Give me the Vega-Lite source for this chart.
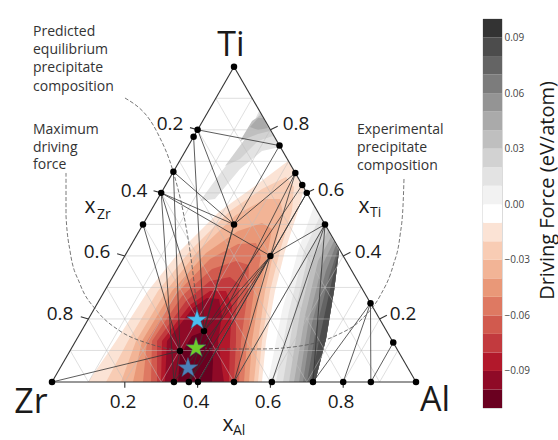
{
"$schema": "https://vega.github.io/schema/vega-lite/v6.json",
"autosize": {"type": "pad"},
"padding": {"left": 0, "top": 18, "right": 0, "bottom": 0},
"background": "white",
"config": {"view": {"stroke": null}, "font": "Open Sans"},
"spacing": 22,
"resolve": {"scale": {"color": "independent"}},
"hconcat": [
{
"width": 460, "height": 422,
"projection": {"type": "identity", "reflectY": true, "scale": 364, "translate": [52, 363]},
"layer": [
{
"data": {"values": {"type": "FeatureCollection", "features": [
{"type": "Feature", "properties": {"v": -0.02}, "geometry": {"type": "Polygon", "coordinates": [[[0.0989,0],[0.1758,0.1126],[0.2637,0.25],[0.3516,0.3599],[0.4615,0.4698],[0.5577,0.5385],[0.6484,0.6071],[0.6923,0.5302],[0.6758,0.4698],[0.6401,0.3599],[0.6126,0.25],[0.5879,0.1126],[0.5769,0],[0.0989,0]]]}},
{"type": "Feature", "properties": {"v": -0.03}, "geometry": {"type": "Polygon", "coordinates": [[[0.1484,0],[0.2088,0.1126],[0.2912,0.25],[0.3791,0.3599],[0.489,0.4698],[0.5769,0.5302],[0.6429,0.5632],[0.6648,0.5357],[0.6593,0.4698],[0.6264,0.3599],[0.5989,0.25],[0.5769,0.1126],[0.5659,0],[0.1484,0]]]}},
{"type": "Feature", "properties": {"v": -0.04}, "geometry": {"type": "Polygon", "coordinates": [[[0.1896,0],[0.2308,0.1126],[0.3132,0.25],[0.4011,0.3599],[0.5055,0.4588],[0.5852,0.5027],[0.6264,0.5027],[0.6346,0.4643],[0.6099,0.3599],[0.5852,0.25],[0.5659,0.1126],[0.5549,0],[0.1896,0]]]}},
{"type": "Feature", "properties": {"v": -0.05}, "geometry": {"type": "Polygon", "coordinates": [[[0.2225,0],[0.2473,0.1126],[0.3297,0.25],[0.4231,0.3544],[0.511,0.4148],[0.5769,0.4368],[0.6044,0.4203],[0.5934,0.3599],[0.5714,0.25],[0.5495,0.1126],[0.5412,0],[0.2225,0]]]}},
{"type": "Feature", "properties": {"v": -0.06}, "geometry": {"type": "Polygon", "coordinates": [[[0.25,0],[0.261,0.1126],[0.3434,0.2445],[0.4341,0.3379],[0.511,0.3791],[0.5604,0.3819],[0.5742,0.3462],[0.5549,0.25],[0.5357,0.1126],[0.5275,0],[0.25,0]]]}},
{"type": "Feature", "properties": {"v": -0.07}, "geometry": {"type": "Polygon", "coordinates": [[[0.272,0],[0.2747,0.1126],[0.3571,0.2363],[0.4396,0.3104],[0.5055,0.3324],[0.5412,0.3214],[0.5385,0.25],[0.5192,0.1126],[0.5137,0],[0.272,0]]]}},
{"type": "Feature", "properties": {"v": -0.08}, "geometry": {"type": "Polygon", "coordinates": [[[0.2885,0],[0.2885,0.1126],[0.3681,0.2225],[0.4341,0.2775],[0.489,0.2885],[0.5165,0.2665],[0.5055,0.1951],[0.5055,0.1126],[0.5,0],[0.2885,0]]]}},
{"type": "Feature", "properties": {"v": -0.09}, "geometry": {"type": "Polygon", "coordinates": [[[0.2995,0],[0.3022,0.1126],[0.3791,0.2115],[0.4341,0.25],[0.478,0.25],[0.4945,0.2088],[0.489,0.1126],[0.4863,0],[0.2995,0]]]}},
{"type": "Feature", "properties": {"v": -0.10}, "geometry": {"type": "Polygon", "coordinates": [[[0.3104,0],[0.3159,0.1126],[0.3874,0.2033],[0.4258,0.2308],[0.4588,0.228],[0.467,0.1813],[0.456,0.1126],[0.4725,0],[0.3104,0]]]}},
{"type": "Feature", "properties": {"v": -0.11}, "geometry": {"type": "Polygon", "coordinates": [[[0.3462,0],[0.3516,0.0714],[0.3846,0.1264],[0.4203,0.1401],[0.4396,0.1126],[0.4423,0.0577],[0.4396,0],[0.3462,0]]]}},
{"type": "Feature", "properties": {"v": 0.00}, "geometry": {"type": "Polygon", "coordinates": [[[0.5934,0],[0.6319,0.1951],[0.6758,0.3599],[0.7198,0.4835],[0.7885,0.3599],[0.7747,0.25],[0.7527,0.1181],[0.7225,0],[0.5934,0]]]}},
{"type": "Feature", "properties": {"v": 0.01}, "geometry": {"type": "Polygon", "coordinates": [[[0.6154,0],[0.6511,0.1951],[0.6923,0.3599],[0.7363,0.456],[0.7885,0.3599],[0.7747,0.25],[0.7527,0.1181],[0.7225,0],[0.6154,0]]]}},
{"type": "Feature", "properties": {"v": 0.02}, "geometry": {"type": "Polygon", "coordinates": [[[0.6346,0],[0.6676,0.1951],[0.706,0.3544],[0.7473,0.4368],[0.7885,0.3599],[0.7747,0.25],[0.7527,0.1181],[0.7225,0],[0.6346,0]]]}},
{"type": "Feature", "properties": {"v": 0.03}, "geometry": {"type": "Polygon", "coordinates": [[[0.6511,0],[0.6813,0.1896],[0.7198,0.3462],[0.7582,0.4148],[0.7885,0.3599],[0.7747,0.25],[0.7527,0.1181],[0.7225,0],[0.6511,0]]]}},
{"type": "Feature", "properties": {"v": 0.04}, "geometry": {"type": "Polygon", "coordinates": [[[0.6648,0],[0.6951,0.1813],[0.7308,0.3324],[0.7665,0.3984],[0.7885,0.3599],[0.7747,0.25],[0.7527,0.1181],[0.7225,0],[0.6648,0]]]}},
{"type": "Feature", "properties": {"v": 0.05}, "geometry": {"type": "Polygon", "coordinates": [[[0.6786,0],[0.706,0.1731],[0.7418,0.3187],[0.7747,0.3874],[0.7885,0.3599],[0.7747,0.25],[0.7527,0.1181],[0.7225,0],[0.6786,0]]]}},
{"type": "Feature", "properties": {"v": 0.06}, "geometry": {"type": "Polygon", "coordinates": [[[0.6896,0],[0.7143,0.1621],[0.7527,0.3049],[0.7802,0.3764],[0.7885,0.3599],[0.7747,0.25],[0.7527,0.1181],[0.7225,0],[0.6896,0]]]}},
{"type": "Feature", "properties": {"v": 0.07}, "geometry": {"type": "Polygon", "coordinates": [[[0.7005,0],[0.7253,0.1456],[0.761,0.2885],[0.7857,0.3654],[0.7885,0.3599],[0.7747,0.25],[0.7527,0.1181],[0.7225,0],[0.7005,0]]]}},
{"type": "Feature", "properties": {"v": 0.08}, "geometry": {"type": "Polygon", "coordinates": [[[0.7115,0],[0.7363,0.1264],[0.7665,0.2665],[0.7857,0.3544],[0.7885,0.3599],[0.7747,0.25],[0.7527,0.1181],[0.7225,0],[0.7115,0]]]}},
{"type": "Feature", "properties": {"v": 0.01}, "geometry": {"type": "Polygon", "coordinates": [[[0.4066,0.4973],[0.467,0.5797],[0.5302,0.6621],[0.5687,0.7445],[0.6264,0.6456],[0.5769,0.6346],[0.5165,0.5852],[0.4478,0.5027],[0.4066,0.4973]]]}},
{"type": "Feature", "properties": {"v": 0.02}, "geometry": {"type": "Polygon", "coordinates": [[[0.4753,0.5934],[0.5302,0.6676],[0.5714,0.739],[0.6071,0.6758],[0.5659,0.6621],[0.5165,0.6126],[0.4753,0.5934]]]}},
{"type": "Feature", "properties": {"v": 0.03}, "geometry": {"type": "Polygon", "coordinates": [[[0.5165,0.6621],[0.5495,0.717],[0.5742,0.7335],[0.5989,0.6896],[0.5659,0.6813],[0.5165,0.6621]]]}},
{"type": "Feature", "properties": {"v": 0.04}, "geometry": {"type": "Polygon", "coordinates": [[[0.544,0.7005],[0.5659,0.7253],[0.5797,0.7253],[0.5934,0.6978],[0.5659,0.6923],[0.544,0.7005]]]}}
]}, "format": {"type": "json", "property": "features"}},
"mark": {"type": "geoshape", "strokeWidth": 0},
"encoding": {
"color": {"field": "properties.v", "type": "quantitative", "legend": null,
"scale": {"type": "threshold", "domain": [-0.10,-0.09,-0.08,-0.07,-0.06,-0.05,-0.04,-0.03,-0.02,-0.01,0.00,0.01,0.02,0.03,0.04,0.05,0.06,0.07,0.08,0.09],
"range": ["#6a0020","#8f0a27","#b2182b","#c23a3e","#d15a4e","#de7962","#e99878","#f2b496","#f8ccb4","#fbe3d5","#ffffff","#f2f2f2","#e3e3e3","#d2d2d2","#bfbfbf","#aaaaaa","#949494","#7c7c7c","#646464","#4c4c4c","#333333"]}}
}
},
{
"data": {"values": [
{"x1":0.05,"y1":0.0866,"x2":0.95,"y2":0.0866},{"x1":0.1,"y1":0.1732,"x2":0.9,"y2":0.1732},{"x1":0.15,"y1":0.2598,"x2":0.85,"y2":0.2598},{"x1":0.2,"y1":0.3464,"x2":0.8,"y2":0.3464},{"x1":0.25,"y1":0.433,"x2":0.75,"y2":0.433},{"x1":0.3,"y1":0.5196,"x2":0.7,"y2":0.5196},{"x1":0.35,"y1":0.6062,"x2":0.65,"y2":0.6062},{"x1":0.4,"y1":0.6928,"x2":0.6,"y2":0.6928},{"x1":0.45,"y1":0.7794,"x2":0.55,"y2":0.7794},
{"x1":0.1,"y1":0,"x2":0.55,"y2":0.7794},{"x1":0.2,"y1":0,"x2":0.6,"y2":0.6928},{"x1":0.3,"y1":0,"x2":0.65,"y2":0.6062},{"x1":0.4,"y1":0,"x2":0.7,"y2":0.5196},{"x1":0.5,"y1":0,"x2":0.75,"y2":0.433},{"x1":0.6,"y1":0,"x2":0.8,"y2":0.3464},{"x1":0.7,"y1":0,"x2":0.85,"y2":0.2598},{"x1":0.8,"y1":0,"x2":0.9,"y2":0.1732},{"x1":0.9,"y1":0,"x2":0.95,"y2":0.0866},
{"x1":0.1,"y1":0,"x2":0.05,"y2":0.0866},{"x1":0.2,"y1":0,"x2":0.1,"y2":0.1732},{"x1":0.3,"y1":0,"x2":0.15,"y2":0.2598},{"x1":0.4,"y1":0,"x2":0.2,"y2":0.3464},{"x1":0.5,"y1":0,"x2":0.25,"y2":0.433},{"x1":0.6,"y1":0,"x2":0.3,"y2":0.5196},{"x1":0.7,"y1":0,"x2":0.35,"y2":0.6062},{"x1":0.8,"y1":0,"x2":0.4,"y2":0.6928},{"x1":0.9,"y1":0,"x2":0.45,"y2":0.7794}
]},
"mark": {"type": "rule", "color": "#bdbdbd", "strokeWidth": 0.7, "opacity": 0.7},
"encoding": {"longitude": {"field": "x1", "type": "quantitative"}, "latitude": {"field": "y1", "type": "quantitative"}, "longitude2": {"field": "x2"}, "latitude2": {"field": "y2"}}
},
{
"data": {"values": [
{"x1":0,"y1":0,"x2":1,"y2":0},{"x1":1,"y1":0,"x2":0.5,"y2":0.866},{"x1":0.5,"y1":0.866,"x2":0,"y2":0},
{"x1":0.4,"y1":0.6928,"x2":0.379,"y2":0.6988},{"x1":0.3,"y1":0.5196,"x2":0.279,"y2":0.5256},{"x1":0.2,"y1":0.3464,"x2":0.179,"y2":0.3524},{"x1":0.1,"y1":0.1732,"x2":0.079,"y2":0.1792},
{"x1":0.6,"y1":0.6928,"x2":0.62,"y2":0.7028},{"x1":0.7,"y1":0.5196,"x2":0.72,"y2":0.5296},{"x1":0.8,"y1":0.3464,"x2":0.82,"y2":0.3564},{"x1":0.9,"y1":0.1732,"x2":0.92,"y2":0.1832},
{"x1":0.2,"y1":0,"x2":0.2,"y2":-0.016},{"x1":0.4,"y1":0,"x2":0.4,"y2":-0.016},{"x1":0.6,"y1":0,"x2":0.6,"y2":-0.016},{"x1":0.8,"y1":0,"x2":0.8,"y2":-0.016}
]},
"mark": {"type": "rule", "color": "#333333", "strokeWidth": 1.1},
"encoding": {"longitude": {"field": "x1", "type": "quantitative"}, "latitude": {"field": "y1", "type": "quantitative"}, "longitude2": {"field": "x2"}, "latitude2": {"field": "y2"}}
},
{
"data": {"values": [
{"x1":0.4,"y1":0.6928,"x2":0.625,"y2":0.6495},{"x1":0.4,"y1":0.6928,"x2":0.5,"y2":0.433},{"x1":0.389,"y1":0.6737,"x2":0.4176,"y2":0.1401},{"x1":0.3335,"y1":0.5776,"x2":0.5,"y2":0.433},{"x1":0.3335,"y1":0.5776,"x2":0.3516,"y2":0.0852},
{"x1":0.3,"y1":0.5196,"x2":0.5,"y2":0.433},{"x1":0.3,"y1":0.5196,"x2":0.6,"y2":0.3464},{"x1":0.3,"y1":0.5196,"x2":0.335,"y2":0},{"x1":0.3,"y1":0.5196,"x2":0.4176,"y2":0.1401},{"x1":0.25,"y1":0.433,"x2":0.3516,"y2":0.0852},
{"x1":0.625,"y1":0.6495,"x2":0.5,"y2":0.433},{"x1":0.6685,"y1":0.5742,"x2":0.5,"y2":0.433},{"x1":0.6685,"y1":0.5742,"x2":0.6,"y2":0.3464},{"x1":0.6685,"y1":0.5742,"x2":0.376,"y2":0},{"x1":0.6875,"y1":0.5413,"x2":0.4176,"y2":0.1401},
{"x1":0.7,"y1":0.5196,"x2":0.401,"y2":0},{"x1":0.5,"y1":0.433,"x2":0.4176,"y2":0.1401},{"x1":0.5,"y1":0.433,"x2":0.376,"y2":0},{"x1":0.6,"y1":0.3464,"x2":0.4176,"y2":0.1401},{"x1":0.6,"y1":0.3464,"x2":0.335,"y2":0},
{"x1":0.6,"y1":0.3464,"x2":0.376,"y2":0},{"x1":0.6,"y1":0.3464,"x2":0.401,"y2":0},{"x1":0.6,"y1":0.3464,"x2":0.5,"y2":0},{"x1":0.6,"y1":0.3464,"x2":0.75,"y2":0.433},{"x1":0.6,"y1":0.3464,"x2":0.7,"y2":0.5196},
{"x1":0.75,"y1":0.433,"x2":0.5,"y2":0},{"x1":0.75,"y1":0.433,"x2":0.604,"y2":0},{"x1":0.75,"y1":0.433,"x2":0.717,"y2":0},{"x1":0.875,"y1":0.2165,"x2":0.717,"y2":0},{"x1":0.875,"y1":0.2165,"x2":0.8,"y2":0},
{"x1":0.875,"y1":0.2165,"x2":0.876,"y2":0},{"x1":0.9375,"y1":0.1083,"x2":0.876,"y2":0},{"x1":0,"y1":0,"x2":0.3516,"y2":0.0852},{"x1":0.3516,"y1":0.0852,"x2":0.335,"y2":0}
]},
"mark": {"type": "rule", "color": "#333333", "strokeWidth": 0.8},
"encoding": {"longitude": {"field": "x1", "type": "quantitative"}, "latitude": {"field": "y1", "type": "quantitative"}, "longitude2": {"field": "x2"}, "latitude2": {"field": "y2"}}
},
{
"data": {"values": [
{"arc":"A","i":1,"x":0.0385,"y":0.5742},{"arc":"A","i":2,"x":0.0385,"y":0.456},{"arc":"A","i":3,"x":0.0495,"y":0.3599},{"arc":"A","i":4,"x":0.0769,"y":0.2692},{"arc":"A","i":5,"x":0.1236,"y":0.1951},{"arc":"A","i":6,"x":0.1868,"y":0.1401},{"arc":"A","i":7,"x":0.2692,"y":0.1044},{"arc":"A","i":8,"x":0.3516,"y":0.0852},
{"arc":"B","i":1,"x":0.2005,"y":0.7802},{"arc":"B","i":2,"x":0.2885,"y":0.6868},{"arc":"B","i":3,"x":0.3324,"y":0.5797},{"arc":"B","i":4,"x":0.3599,"y":0.4698},{"arc":"B","i":5,"x":0.3791,"y":0.3599},{"arc":"B","i":6,"x":0.3929,"y":0.25},{"arc":"B","i":7,"x":0.3984,"y":0.1951},
{"arc":"C","i":1,"x":0.967,"y":0.5577},{"arc":"C","i":2,"x":0.9643,"y":0.4835},{"arc":"C","i":3,"x":0.956,"y":0.4011},{"arc":"C","i":4,"x":0.9368,"y":0.3187},{"arc":"C","i":5,"x":0.9011,"y":0.2363},{"arc":"C","i":6,"x":0.8516,"y":0.1731},{"arc":"C","i":7,"x":0.7775,"y":0.1264},{"arc":"C","i":8,"x":0.6813,"y":0.0989},{"arc":"C","i":9,"x":0.5714,"y":0.0907},{"arc":"C","i":10,"x":0.4478,"y":0.0907},{"arc":"C","i":11,"x":0.4203,"y":0.0934}
]},
"mark": {"type": "line", "color": "#555555", "strokeWidth": 0.8, "strokeDash": [4, 2], "interpolate": "monotone"},
"encoding": {"longitude": {"field": "x", "type": "quantitative"}, "latitude": {"field": "y", "type": "quantitative"}, "detail": {"field": "arc"}, "order": {"field": "i", "type": "quantitative"}}
},
{
"data": {"values": [
{"x":0,"y":0},{"x":1,"y":0},{"x":0.5,"y":0.866},
{"x":0.335,"y":0},{"x":0.376,"y":0},{"x":0.401,"y":0},{"x":0.5,"y":0},{"x":0.604,"y":0},{"x":0.717,"y":0},{"x":0.8,"y":0},{"x":0.876,"y":0},
{"x":0.4,"y":0.6928},{"x":0.389,"y":0.6737},{"x":0.3335,"y":0.5776},{"x":0.3,"y":0.5196},{"x":0.25,"y":0.433},
{"x":0.625,"y":0.6495},{"x":0.6685,"y":0.5742},{"x":0.6875,"y":0.5413},{"x":0.7,"y":0.5196},{"x":0.75,"y":0.433},{"x":0.875,"y":0.2165},{"x":0.9375,"y":0.1083},
{"x":0.5,"y":0.433},{"x":0.6,"y":0.3464},{"x":0.4176,"y":0.1401},{"x":0.3516,"y":0.0852}
]},
"mark": {"type": "circle", "color": "#000000", "size": 42, "opacity": 1},
"encoding": {"longitude": {"field": "x", "type": "quantitative"}, "latitude": {"field": "y", "type": "quantitative"}}
},
{
"data": {"values": [
{"name":"Experimental","x":0.3984,"y":0.1703},{"name":"Maximum","x":0.3956,"y":0.0934},{"name":"Predicted","x":0.3736,"y":0.0385}
]},
"mark": {"type": "point", "filled": true, "size": 440, "opacity": 1, "stroke": "#3c5a78", "strokeWidth": 0.5,
"shape": "M0,-1L0.2245,-0.309L0.9511,-0.309L0.3633,0.118L0.5878,0.809L0,0.382L-0.5878,0.809L-0.3633,0.118L-0.9511,-0.309L-0.2245,-0.309Z"},
"encoding": {"longitude": {"field": "x", "type": "quantitative"}, "latitude": {"field": "y", "type": "quantitative"},
"fill": {"field": "name", "type": "nominal", "legend": null, "scale": {"domain": ["Experimental","Maximum","Predicted"], "range": ["#4cbff0","#6fcd2b","#4c80b8"]}}}
},
{
"data": {"values": [
{"t":"Ti","x":0.4918,"y":0.8956},{"t":"Zr","x":-0.0577,"y":-0.0852},{"t":"Al","x":1.0522,"y":-0.0797}
]},
"mark": {"type": "text", "fontSize": 34, "color": "#1a1a1a", "align": "center", "baseline": "alphabetic"},
"encoding": {"longitude": {"field": "x", "type": "quantitative"}, "latitude": {"field": "y", "type": "quantitative"}, "text": {"field": "t"}}
},
{
"data": {"values": [
{"t":"0.2","x":0.3242,"y":0.6923},{"t":"0.4","x":0.2253,"y":0.5082},{"t":"0.6","x":0.1236,"y":0.3407},{"t":"0.8","x":0.022,"y":0.1703},
{"t":"0.8","x":0.6703,"y":0.6923},{"t":"0.6","x":0.7665,"y":0.511},{"t":"0.4","x":0.8681,"y":0.3407},{"t":"0.2","x":0.9643,"y":0.1703},
{"t":"0.2","x":0.1951,"y":-0.0714},{"t":"0.4","x":0.3956,"y":-0.0714},{"t":"0.6","x":0.5934,"y":-0.0714},{"t":"0.8","x":0.794,"y":-0.0714}
]},
"mark": {"type": "text", "fontSize": 19, "color": "#1a1a1a", "align": "center", "baseline": "alphabetic"},
"encoding": {"longitude": {"field": "x", "type": "quantitative"}, "latitude": {"field": "y", "type": "quantitative"}, "text": {"field": "t"}}
},
{
"data": {"values": [
{"t":"x","x":0.1044,"y":0.4643},{"t":"x","x":0.8571,"y":0.4643},{"t":"x","x":0.4835,"y":-0.1346}
]},
"mark": {"type": "text", "fontSize": 21, "color": "#1a1a1a", "align": "center", "baseline": "alphabetic"},
"encoding": {"longitude": {"field": "x", "type": "quantitative"}, "latitude": {"field": "y", "type": "quantitative"}, "text": {"field": "t"}}
},
{
"data": {"values": [
{"t":"Zr","x":0.1236,"y":0.4478},{"t":"Ti","x":0.8736,"y":0.4533},{"t":"Al","x":0.4973,"y":-0.1456}
]},
"mark": {"type": "text", "fontSize": 14, "color": "#1a1a1a", "align": "left", "baseline": "alphabetic"},
"encoding": {"longitude": {"field": "x", "type": "quantitative"}, "latitude": {"field": "y", "type": "quantitative"}, "text": {"field": "t"}}
},
{
"data": {"values": [
{"t":"Predicted","x":-0.0522,"y":0.9505},{"t":"equilibrium","x":-0.0522,"y":0.9011},{"t":"precipitate","x":-0.0522,"y":0.8503},{"t":"composition","x":-0.0522,"y":0.7995},
{"t":"Maximum","x":-0.0522,"y":0.6813},{"t":"driving","x":-0.0522,"y":0.6332},{"t":"force","x":-0.0522,"y":0.5852},
{"t":"Experimental","x":0.8379,"y":0.6813},{"t":"precipitate","x":0.8379,"y":0.6319},{"t":"composition","x":0.8379,"y":0.5824}
]},
"mark": {"type": "text", "fontSize": 14, "color": "#333333", "align": "left", "baseline": "alphabetic"},
"encoding": {"longitude": {"field": "x", "type": "quantitative"}, "latitude": {"field": "y", "type": "quantitative"}, "text": {"field": "t"}}
}
]
},
{
"width": 19, "height": 389,
"view": {"stroke": "#9a9a9a", "strokeWidth": 0.6},
"data": {"values": [
{"lo":-0.11,"hi":-0.10},{"lo":-0.10,"hi":-0.09},{"lo":-0.09,"hi":-0.08},{"lo":-0.08,"hi":-0.07},{"lo":-0.07,"hi":-0.06},{"lo":-0.06,"hi":-0.05},{"lo":-0.05,"hi":-0.04},{"lo":-0.04,"hi":-0.03},{"lo":-0.03,"hi":-0.02},{"lo":-0.02,"hi":-0.01},{"lo":-0.01,"hi":0.00},
{"lo":0.00,"hi":0.01},{"lo":0.01,"hi":0.02},{"lo":0.02,"hi":0.03},{"lo":0.03,"hi":0.04},{"lo":0.04,"hi":0.05},{"lo":0.05,"hi":0.06},{"lo":0.06,"hi":0.07},{"lo":0.07,"hi":0.08},{"lo":0.08,"hi":0.09},{"lo":0.09,"hi":0.10}
]},
"mark": {"type": "rect"},
"encoding": {
"y": {"field": "lo", "type": "quantitative", "scale": {"domain": [-0.11, 0.10], "nice": false, "zero": false},
"axis": {"orient": "right", "values": [-0.09,-0.06,-0.03,0,0.03,0.06,0.09], "format": ".2f", "ticks": false, "domain": false, "grid": false,
"labelPadding": 2, "labelFontSize": 10, "labelColor": "#444444", "labelFont": "Open Sans",
"title": "Driving Force (eV/atom)", "titleFontSize": 20, "titleFontWeight": "normal", "titleColor": "#1a1a1a", "titleFont": "Open Sans",
"titleAngle": 270, "titleX": 45, "titleY": 171, "titleAlign": "center", "titleBaseline": "middle"}},
"y2": {"field": "hi"},
"color": {"field": "lo", "type": "quantitative", "legend": null,
"scale": {"type": "threshold", "domain": [-0.10,-0.09,-0.08,-0.07,-0.06,-0.05,-0.04,-0.03,-0.02,-0.01,0.00,0.01,0.02,0.03,0.04,0.05,0.06,0.07,0.08,0.09],
"range": ["#6a0020","#8f0a27","#b2182b","#c23a3e","#d15a4e","#de7962","#e99878","#f2b496","#f8ccb4","#fbe3d5","#ffffff","#f2f2f2","#e3e3e3","#d2d2d2","#bfbfbf","#aaaaaa","#949494","#7c7c7c","#646464","#4c4c4c","#333333"]}}
}
}
]
}
